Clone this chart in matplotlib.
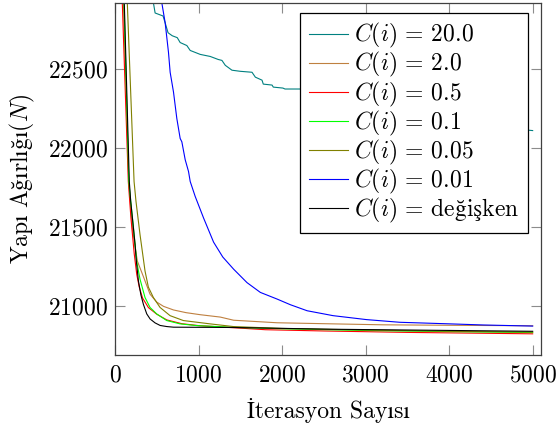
import matplotlib
matplotlib.use("Agg")
import matplotlib.pyplot as plt

plt.rcParams['font.family'] = ['cmr10', 'STIXGeneral']
plt.rcParams['mathtext.fontset'] = 'cm'
plt.rcParams['axes.formatter.use_mathtext'] = True
plt.rcParams['axes.unicode_minus'] = False

# Convergence histories: structure weight vs. iteration for each C(i)
it_c20 = [0, 200, 400, 460, 480, 575, 600, 635, 685, 745, 780, 860, 900, 1020, 1140,
          1235, 1280, 1320, 1400, 1500, 1640, 1680, 1760, 1775, 1880, 1895, 2010, 2035,
          2240, 2600, 3000, 3400, 3800, 4200, 4600, 5000]
w_c20 = [25500, 24200, 23150, 22917, 22854, 22835, 22792, 22729, 22710, 22698, 22667,
         22648, 22617, 22592, 22579, 22560, 22554, 22523, 22492, 22485, 22479, 22448,
         22429, 22404, 22398, 22385, 22379, 22373, 22373, 22330, 22290, 22250, 22210,
         22170, 22130, 22110]

it_c2 = [0, 100, 165, 210, 267, 344, 419, 499, 580, 700, 850, 1020, 1260, 1420, 1940,
         2610, 3210, 4000, 5000]
w_c2 = [24400, 22919, 21788, 21480, 21285, 21180, 21075, 21025, 20998, 20975, 20958,
        20945, 20930, 20910, 20894, 20887, 20881, 20878, 20875]

it_c05 = [0, 87, 159, 190, 230, 260, 290, 330, 400, 500, 620, 800, 1000, 1500, 1800,
          2500, 3500, 5000]
w_c05 = [24300, 22919, 21788, 21560, 21330, 21200, 21120, 21050, 20990, 20948, 20912,
         20888, 20876, 20860, 20850, 20842, 20833, 20824]

it_c01 = [0, 108, 165, 188, 220, 240, 260, 299, 359, 419, 499, 619, 778, 978, 1138,
          1417, 2000, 3000, 4000, 5000]
w_c01 = [24300, 22919, 21788, 21662, 21500, 21390, 21280, 21170, 21054, 20991, 20950,
         20908, 20887, 20876, 20872, 20865, 20856, 20845, 20838, 20832]

it_c005 = [0, 147, 228, 251, 299, 359, 399, 459, 539, 659, 818, 1138, 1417, 2000, 3000,
           4000, 5000]
w_c005 = [25000, 22919, 21788, 21662, 21453, 21222, 21120, 21054, 20991, 20939, 20908,
          20887, 20870, 20858, 20848, 20840, 20835]

it_c001 = [0, 200, 400, 560, 600, 640, 660, 700, 740, 780, 800, 840, 880, 900, 960, 1060,
           1180, 1290, 1420, 1580, 1740, 1940, 2100, 2300, 2610, 3010, 3410, 4010, 4410,
           5000]
w_c001 = [27500, 25600, 23900, 22919, 22793, 22605, 22479, 22354, 22186, 22060, 22039,
          21926, 21851, 21788, 21693, 21557, 21404, 21310, 21233, 21148, 21086, 21044,
          21008, 20970, 20939, 20914, 20897, 20887, 20880, 20873]

it_var = [0, 111, 171, 188, 240, 255, 280, 310, 340, 380, 420, 480, 540, 620, 700, 1140,
          1420, 2600, 5000]
w_var = [24400, 22919, 21788, 21662, 21390, 21285, 21159, 21070, 21010, 20950, 20918,
         20893, 20877, 20870, 20866, 20865, 20864, 20853, 20840]

c_values = ["20.0", "2.0", "0.5", "0.1", "0.05", "0.01", r"\mathrm{değişken}"]
colors = ['#008080', '#bf8040', '#ff0000', '#00ff00', '#808000', '#0000ff', '#000000']

xticks = [0, 1000, 2000, 3000, 4000, 5000]
yticks = [21000, 21500, 22000, 22500]
xlabel = "İterasyon Sayısı"
ylabel = r"$\mathrm{Yapı\ Ağırlığı}(N)$"

FS = 17
labels = [r"$C(i)\,=\," + v + "$" for v in c_values]

series = [(it_c20, w_c20), (it_c2, w_c2), (it_c05, w_c05), (it_c01, w_c01),
          (it_c005, w_c005), (it_c001, w_c001), (it_var, w_var)]

fig = plt.figure(figsize=(5.57, 4.25), dpi=100)
ax = fig.add_axes([0.2065, 0.1647, 0.7648, 0.8289])

for (x, y), lab, col in zip(series, labels, colors):
    ax.plot(x, y, color=col, lw=0.8, label=lab)

ax.set_xlim(0, 5100)
ax.set_ylim(20690, 22919)
ax.set_xticks(xticks)
ax.set_yticks(yticks)
ax.tick_params(direction='in', length=7, width=0.8, color='0.55',
               top=True, right=True, labelsize=FS, pad=5)
ax.tick_params(axis='x', pad=7)
for sp in ax.spines.values():
    sp.set_color('0.25')
    sp.set_linewidth(0.9)

ax.set_xlabel(xlabel, fontsize=FS, labelpad=8)
ax.set_ylabel(ylabel, fontsize=FS, labelpad=8)

leg = ax.legend(loc='upper right', bbox_to_anchor=(0.9695, 0.9708), borderaxespad=0,
                fontsize=FS, handlelength=1.65, handletextpad=0.28, labelspacing=0.0,
                borderpad=0.35, fancybox=False, framealpha=1, edgecolor='black')
leg.get_frame().set_linewidth(0.9)

fig.savefig("out.png", dpi=100)
